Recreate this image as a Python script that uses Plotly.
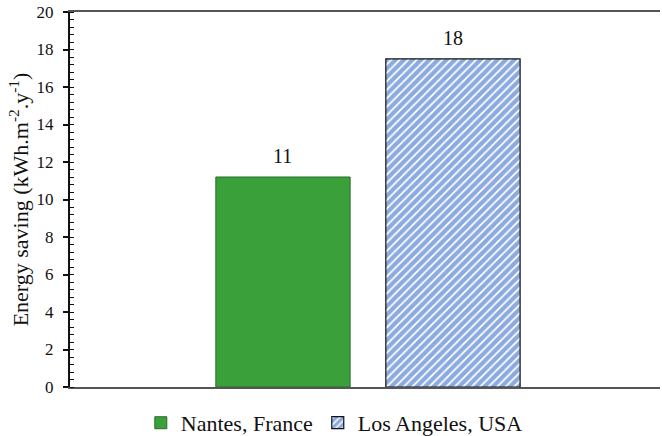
import plotly.graph_objects as go

categories = ["Nantes, France", "Los Angeles, USA"]
values = [11.2, 17.5]
labels = ["11", "18"]

FONT = "Liberation Serif"

fig = go.Figure()
fig.add_trace(go.Bar(
    x=[categories[0]], y=[values[0]], name=categories[0],
    marker=dict(color="#3aa13a", line=dict(color="#2b6a2b", width=1)),
    width=0.79,
))
fig.add_trace(go.Bar(
    x=[categories[1]], y=[values[1]], name=categories[1],
    marker=dict(color="white", line=dict(color="#111111", width=1.2),
                pattern=dict(shape="/", fgcolor="#1a55c0", bgcolor="white",
                             size=6, solidity=0.7)),
    width=0.79,
))

for c, v, t in zip(categories, values, labels):
    fig.add_annotation(x=c, y=v, text=t, showarrow=False, yanchor="bottom",
                       yshift=8, font=dict(family=FONT, size=20, color="#111"))

fig.update_layout(
    width=662, height=436,
    margin=dict(l=70, r=2, t=12, b=49),
    paper_bgcolor="white", plot_bgcolor="white",
    font=dict(family=FONT, color="#111"),
    showlegend=True,
    legend=dict(orientation="h", xref="container", x=0.505, xanchor="center",
                yref="container", y=0.03, yanchor="middle",
                font=dict(family=FONT, size=22), itemwidth=30, traceorder="normal"),
    xaxis=dict(type="category", range=[-1.253, 2.218], showticklabels=False,
               ticks="", showgrid=False, showline=True, linecolor="#555",
               linewidth=2, mirror=True, zeroline=False),
    yaxis=dict(range=[0, 20], dtick=2, tick0=0, showgrid=False, zeroline=False,
               showline=True, linecolor="#111", linewidth=2, automargin=False,
               ticks="outside", ticklen=5, tickwidth=1.5, tickcolor="#111",
               ticklabelstandoff=6,
               tickfont=dict(family=FONT, size=17),
               minor=dict(dtick=0.4, ticks="inside", ticklen=4, tickcolor="#111", tickwidth=1),
               title=dict(text="Energy saving (kWh.m<sup>-2</sup>.y<sup>-1</sup>)",
                          font=dict(family=FONT, size=22), standoff=2)),
)

fig.write_html("out.html", config={"displayModeBar": False},
               post_script="document.body.style.margin='0';document.body.style.overflow='hidden';")
